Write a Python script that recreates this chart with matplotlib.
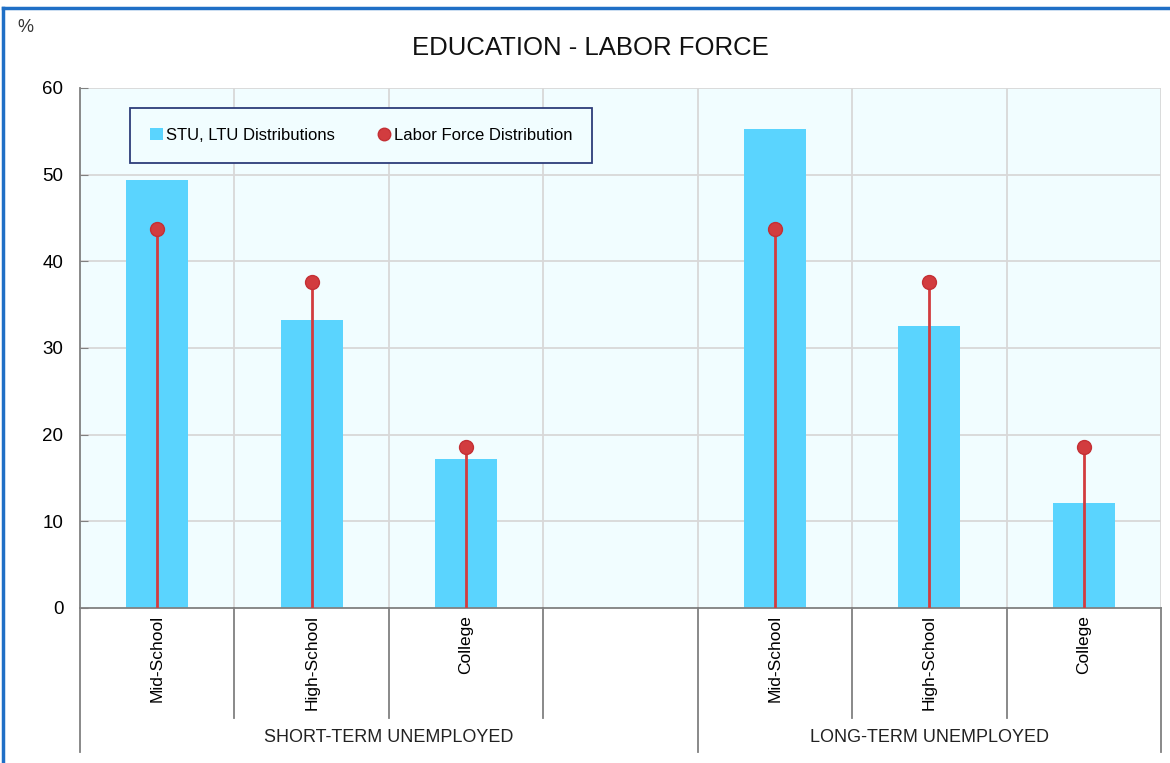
import matplotlib
matplotlib.use('Agg')
import matplotlib.pyplot as plt
from matplotlib.lines import Line2D

plt.rcParams['font.family'] = ['Liberation Sans', 'DejaVu Sans']

# short-term group first (with one empty slot), then long-term
tick_labels = ['Mid-School', 'High-School', 'College', '',
               'Mid-School', 'High-School', 'College']
bar_pos = [0, 1, 2, 4, 5, 6]
stu_ltu = [49.4, 33.2, 17.2, 55.3, 32.5, 12.1]
labor_force = [43.7, 37.6, 18.6, 43.7, 37.6, 18.6]
groups = ['SHORT-TERM UNEMPLOYED', 'LONG-TERM UNEMPLOYED']
group_span = [(-0.5, 3.5), (3.5, 6.5)]

bar_col = '#5ad4fe'
red = '#d23c3f'
grey = '#808080'

fig = plt.figure(figsize=(11.7, 7.63), dpi=100)
ax = fig.add_axes([80 / 1170, 1 - 608 / 763, 1081 / 1170, 520 / 763])
ax.set_facecolor('#f1fdff')

bars = ax.bar(bar_pos, stu_ltu, width=0.4, color=bar_col, zorder=2)
ax.vlines(bar_pos, 0, labor_force, color=red, lw=2, zorder=3)
dots, = ax.plot(bar_pos, labor_force, 'o', ms=10, color=red, mec='#c43035',
                zorder=4)

ax.set_xlim(-0.5, 6.5)
ax.set_ylim(0, 60)
ax.set_yticks(range(0, 61, 10))
ax.set_xticks(range(7))
ax.set_xticklabels(tick_labels, rotation=90, va='top', fontsize=12.5)
ax.tick_params(axis='x', length=0, pad=5)
ax.tick_params(axis='y', length=6, direction='in', color=grey,
               labelsize=13.5, pad=12)

# grid: horizontal every 10, vertical between the slots
for v in range(10, 61, 10):
    ax.axhline(v, color='#d8d8d8', lw=1.3, zorder=1)
for b in [0.5, 1.5, 2.5, 3.5, 4.5, 5.5, 6.5]:
    ax.axvline(b, color='#d8d8d8', lw=1.3, zorder=1)

for s in ['top', 'right']:
    ax.spines[s].set_visible(False)
ax.spines['left'].set_color(grey)
ax.spines['bottom'].set_color(grey)
ax.spines['left'].set_linewidth(1.3)
ax.spines['bottom'].set_linewidth(1.3)

# separators under the axis
tr = ax.get_xaxis_transform()
for b in [0.5, 1.5, 2.5, 4.5, 5.5]:
    ax.add_line(Line2D([b, b], [0, -0.2115], transform=tr, color=grey,
                       lw=1.3, clip_on=False))
for b in [-0.5, 3.5, 6.5]:
    ax.add_line(Line2D([b, b], [0, -0.277], transform=tr, color=grey,
                       lw=1.3, clip_on=False))
for name, (a, b) in zip(groups, group_span):
    ax.text((a + b) / 2, -0.25, name, transform=tr, ha='center',
            va='center', fontsize=13, color='#222222')

leg = ax.legend([bars, dots], ['STU, LTU Distributions', 'Labor Force Distribution'],
                loc='lower left', ncol=2, mode='expand',
                bbox_to_anchor=(0.046, 0.856, 0.428, 0.123),
                fontsize=12, frameon=True, fancybox=False,
                handlelength=0.8, handletextpad=0.2, borderaxespad=0,
                borderpad=1.2, markerscale=0.9)
leg.get_frame().set_edgecolor('#2e3d7a')
leg.get_frame().set_linewidth(1.3)
leg.get_frame().set_facecolor('#f1fdff')
leg.get_frame().set_alpha(1)

fig.text(590 / 1170, 1 - 48 / 763, 'EDUCATION - LABOR FORCE', ha='center',
         va='center', fontsize=18.5, color='#111111')
fig.text(25 / 1170, 1 - 27 / 763, '%', ha='center', va='center',
         fontsize=13, color='#333333')

# blue frame along the top and left edges
fig.add_artist(Line2D([3 / 1170, 1], [1 - 8 / 763, 1 - 8 / 763],
                      transform=fig.transFigure, color='#1f6fc6', lw=2.5))
fig.add_artist(Line2D([3 / 1170, 3 / 1170], [0, 1 - 8 / 763],
                      transform=fig.transFigure, color='#1f6fc6', lw=2.5))

fig.savefig('out.png', dpi=100)
